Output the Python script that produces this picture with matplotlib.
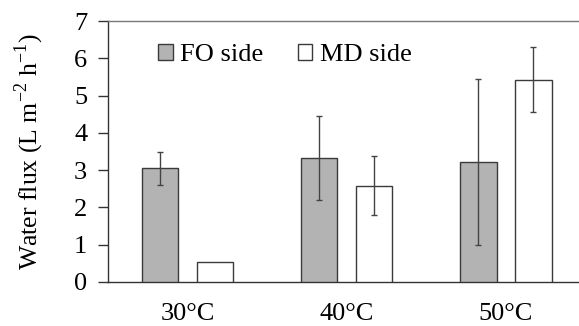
import matplotlib
matplotlib.use("Agg")
import matplotlib.pyplot as plt
import numpy as np
from matplotlib.patches import Patch

categories = ["30\u00b0C", "40\u00b0C", "50\u00b0C"]
fo_side = [3.05, 3.33, 3.21]
fo_err = [0.44, 1.12, 2.23]
md_side = [0.53, 2.58, 5.43]
md_err = [0.0, 0.79, 0.87]
yticks = [0, 1, 2, 3, 4, 5, 6, 7]

plt.rcParams['font.family'] = ['Liberation Serif', 'DejaVu Serif']
FS = 19

fig = plt.figure(figsize=(5.79, 3.26), dpi=100)
W, H = 579, 326
left, right = 108, 585.5
bottom, top = 282, 21
ax = fig.add_axes([left / W, 1 - bottom / H, (right - left) / W, (bottom - top) / H])

x = np.arange(len(categories))
w = 0.228
off = 0.173
edge = '#3a3a3a'
ekw = dict(ecolor='#444444', elinewidth=1.0, capsize=2.5, capthick=1.0)
ax.bar(x - off, fo_side, w, color='#b3b3b3', edgecolor=edge, linewidth=1.0,
       yerr=fo_err, error_kw=ekw, zorder=3)
md_yerr = [e if e > 0 else np.nan for e in md_err]
ax.bar(x + off, md_side, w, color='white', edgecolor=edge, linewidth=1.0,
       yerr=md_yerr, error_kw=ekw, zorder=3)

ax.set_xlim(-0.5, 2.5)
ax.set_ylim(0, 7)
ax.set_yticks(yticks)
ax.set_xticks(x)
ax.set_xticklabels(categories, fontsize=FS)
ax.tick_params(axis='x', length=0, pad=15)
ax.tick_params(axis='y', length=7, width=1.0, color='#333333', labelsize=FS, pad=8)
ax.spines['right'].set_visible(False)
ax.spines['top'].set_color('#777777')
ax.spines['top'].set_linewidth(1.0)
for s in ['left', 'bottom']:
    ax.spines[s].set_color('#333333')
    ax.spines[s].set_linewidth(1.0)

ax.set_ylabel("Water flux (L m$^{\\mathregular{-2}}$ h$^{\\mathregular{-1}}$)", fontsize=18.5, labelpad=20)

handles = [Patch(facecolor='#b3b3b3', edgecolor=edge, label='FO side'),
           Patch(facecolor='white', edgecolor=edge, label='MD side')]
ax.legend(handles=handles, loc='center left', bbox_to_anchor=(0.1047, 0.87), ncol=2, frameon=False,
          fontsize=FS, handlelength=0.55, handleheight=0.55, handletextpad=0.3,
          columnspacing=1.3, borderpad=0, borderaxespad=0)

fig.savefig("out.png", dpi=100)
